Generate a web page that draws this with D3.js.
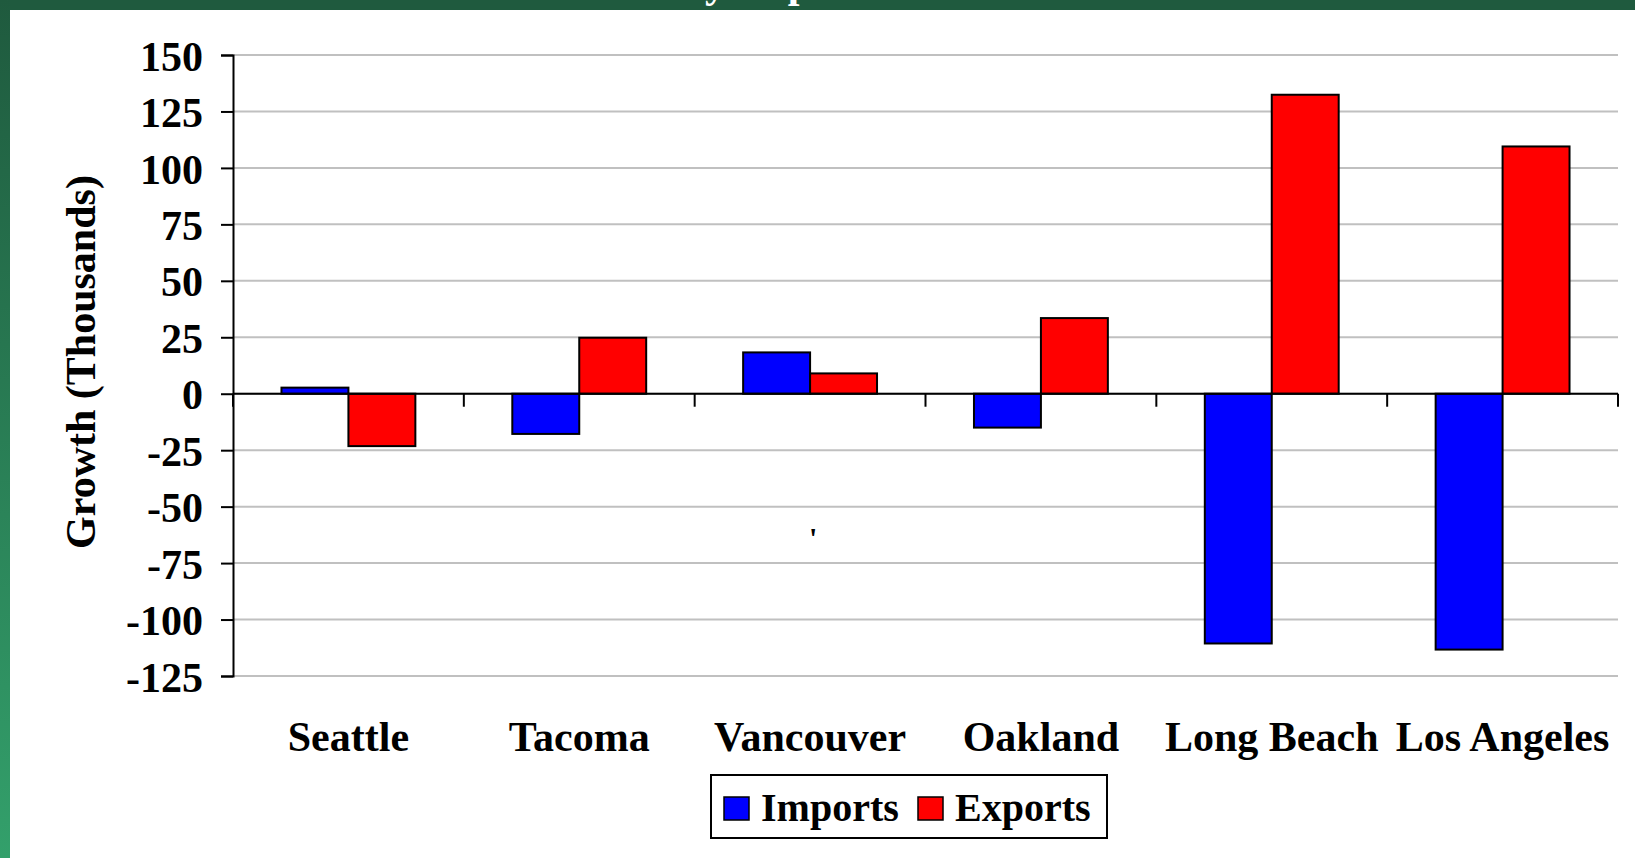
<!DOCTYPE html>
<html>
<head>
<meta charset="utf-8">
<script src="https://cdn.jsdelivr.net/npm/d3@7"></script>
<style>
  body { margin: 0; background: #fff; }
  svg text { font-family: "Liberation Serif", "Times New Roman", serif; font-weight: bold; }
</style>
</head>
<body>
<div id="chart"></div>
<script>
// data (thousands)
var ports = ['Seattle', 'Tacoma', 'Vancouver', 'Oakland', 'Long Beach', 'Los Angeles'];
var series = ['Imports', 'Exports'];
var imports = [2.7, -17.8, 18.3, -15, -110.6, -113.3];
var exports = [-23.2, 24.8, 9, 33.5, 132.4, 109.5];
var yTicks = [-125, -100, -75, -50, -25, 0, 25, 50, 75, 100, 125, 150];
var seriesColors = ['#0000ff', '#ff0000'];

var W = 1635, H = 858;
var margin = { top: 55, right: 17, bottom: 182, left: 233 };

var svg = d3.select('#chart')
  .append('svg')
  .attr('width', W)
  .attr('height', H);

// green slide frame
var defs = svg.append('defs');
var grad = defs.append('linearGradient')
  .attr('id', 'side')
  .attr('x1', 0).attr('y1', 0).attr('x2', 0).attr('y2', 1);
grad.append('stop').attr('offset', '0%').attr('stop-color', '#1f5a3e');
grad.append('stop').attr('offset', '100%').attr('stop-color', '#33a06b');

svg.append('rect').attr('x', 0).attr('y', 0).attr('width', W).attr('height', 10).attr('fill', '#1f5a3e');
svg.append('rect').attr('x', 0).attr('y', 0).attr('width', 10).attr('height', H).attr('fill', 'url(#side)');

// slide title runs off the top, only its descenders show (as in the original)
svg.append('text')
  .attr('x', 572)
  .attr('y', -3)
  .attr('fill', '#fff')
  .style('font-size', '42px')
  .text('Monthly Imports');

var y = d3.scaleLinear()
  .domain([-125, 150])
  .range([676, 55]);

var x0 = d3.scaleBand()
  .domain(ports)
  .range([margin.left, W - margin.right])
  .paddingInner(0.42)
  .paddingOuter(0.21);

var x1 = d3.scaleBand()
  .domain(series)
  .range([0, x0.bandwidth()]);

var left = margin.left, right = W - margin.right;

// gridlines
svg.append('g')
  .selectAll('line')
  .data(yTicks)
  .enter()
  .append('line')
  .attr('x1', left)
  .attr('x2', right)
  .attr('y1', function (d) { return y(d); })
  .attr('y2', function (d) { return y(d); })
  .attr('stroke', '#c0c0c0')
  .attr('stroke-width', 2);

// bars
var rows = ports.map(function (p, i) {
  return { port: p, values: [
    { key: 'Imports', value: imports[i] },
    { key: 'Exports', value: exports[i] }
  ] };
});

var groups = svg.append('g')
  .selectAll('g')
  .data(rows)
  .enter()
  .append('g')
  .attr('transform', function (d) { return 'translate(' + x0(d.port) + ',0)'; });

groups.selectAll('rect')
  .data(function (d) { return d.values; })
  .enter()
  .append('rect')
  .attr('x', function (d) { return x1(d.key); })
  .attr('width', x1.bandwidth())
  .attr('y', function (d) { return y(Math.max(0, d.value)); })
  .attr('height', function (d) { return Math.abs(y(d.value) - y(0)); })
  .attr('fill', function (d, i) { return seriesColors[i]; })
  .attr('stroke', '#000')
  .attr('stroke-width', 2);

// y axis
var yAxis = svg.append('g')
  .attr('transform', 'translate(' + left + ',0)')
  .call(d3.axisLeft(y)
    .tickValues(yTicks)
    .tickSize(12)
    .tickPadding(18)
    .tickFormat(function (d) { return String(d); }));
yAxis.select('.domain').attr('stroke', '#000').attr('stroke-width', 2);
yAxis.selectAll('.tick line').attr('stroke', '#000').attr('stroke-width', 2);
yAxis.selectAll('.tick text')
  .attr('fill', '#000')
  .attr('dy', '0.36em')
  .style('font-size', '42px')
  .style('font-family', '"Liberation Serif", serif');

// x axis at zero, with category boundary ticks
var step = x0.step();
var bounds = d3.range(ports.length + 1).map(function (i) { return left + i * step; });
var xAxis = svg.append('g');
xAxis.append('line')
  .attr('x1', left).attr('x2', right)
  .attr('y1', y(0)).attr('y2', y(0))
  .attr('stroke', '#000').attr('stroke-width', 2);
xAxis.selectAll('line.b')
  .data(bounds)
  .enter()
  .append('line')
  .attr('class', 'b')
  .attr('x1', function (d) { return d; })
  .attr('x2', function (d) { return d; })
  .attr('y1', y(0))
  .attr('y2', y(0) + 13)
  .attr('stroke', '#000').attr('stroke-width', 2);

// category labels
svg.append('g')
  .selectAll('text')
  .data(ports)
  .enter()
  .append('text')
  .attr('x', function (d) { return x0(d) + x0.bandwidth() / 2; })
  .attr('y', 751)
  .attr('text-anchor', 'middle')
  .style('font-size', '42px')
  .text(function (d) { return d; });

// y title
svg.append('text')
  .attr('transform', 'translate(95,362) rotate(-90)')
  .attr('text-anchor', 'middle')
  .style('font-size', '42px')
  .text('Growth (Thousands)');

// stray mark in the original
svg.append('text')
  .attr('x', 809)
  .attr('y', 548)
  .style('font-size', '30px')
  .text("'");

// legend
var legend = svg.append('g');
legend.append('rect')
  .attr('x', 711).attr('y', 775)
  .attr('width', 396).attr('height', 63)
  .attr('fill', '#fff')
  .attr('stroke', '#000')
  .attr('stroke-width', 2);

var legendX = [724, 918];
series.forEach(function (s, i) {
  legend.append('rect')
    .attr('x', legendX[i]).attr('y', 797)
    .attr('width', 25).attr('height', 23)
    .attr('fill', seriesColors[i])
    .attr('stroke', '#000')
    .attr('stroke-width', 1.5);
  legend.append('text')
    .attr('x', legendX[i] + 37)
    .attr('y', 821)
    .style('font-size', '40px')
    .text(s);
});
</script>
</body>
</html>
